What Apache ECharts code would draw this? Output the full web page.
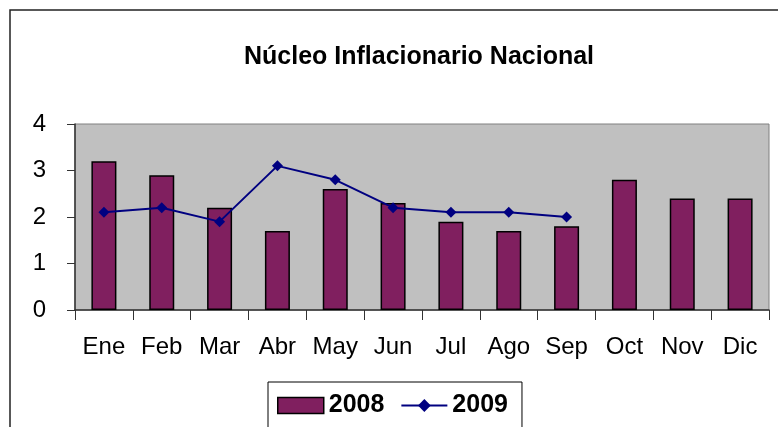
<!DOCTYPE html>
<html>
<head>
<meta charset="utf-8">
<script src="https://cdn.jsdelivr.net/npm/echarts@6/dist/echarts.min.js"></script>
<style>
  html, body { margin: 0; padding: 0; background: #fff; }
  #chart { width: 778px; height: 427px; }
</style>
</head>
<body>
<div id="chart"></div>
<script>
const months = ['Ene', 'Feb', 'Mar', 'Abr', 'May', 'Jun', 'Jul', 'Ago', 'Sep', 'Oct', 'Nov', 'Dic']
const values2008 = [3.2, 2.9, 2.2, 1.7, 2.6, 2.3, 1.9, 1.7, 1.8, 2.8, 2.4, 2.4]
const values2009 = [2.1, 2.2, 1.9, 3.1, 2.8, 2.2, 2.1, 2.1, 2.0]
const yTicks = [0, 1, 2, 3, 4]

const font = '"Liberation Sans", Arial, sans-serif'
const chart = echarts.init(document.getElementById('chart'))

chart.setOption({
  animation: false,
  backgroundColor: '#fff',
  graphic: [{
    type: 'rect',
    shape: { x: 10, y: 10, width: 900, height: 600 },
    style: { fill: 'none', stroke: '#222', lineWidth: 1.5 },
    silent: true,
    z: -1
  }],
  title: {
    text: 'Núcleo Inflacionario Nacional',
    left: 414,
    textAlign: 'center',
    top: 40,
    textStyle: { fontFamily: font, fontSize: 25, fontWeight: 'bold', color: '#000' }
  },
  legend: {
    left: 268,
    top: 382,
    padding: [11, 14, 30, 9],
    borderColor: '#000',
    borderWidth: 1,
    itemWidth: 46,
    itemHeight: 16,
    itemGap: 16,
    textStyle: { fontFamily: font, fontSize: 25, fontWeight: 'bold', color: '#000' },
    data: [
      { name: '2008', icon: 'rect', itemStyle: { borderColor: '#000', borderWidth: 1.5 } },
      { name: '2009' }
    ]
  },
  grid: {
    left: 75,
    right: 9,
    top: 124,
    bottom: 117,
    show: true,
    backgroundColor: '#c0c0c0',
    borderColor: '#808080',
    borderWidth: 1
  },
  xAxis: {
    type: 'category',
    data: months,
    boundaryGap: true,
    axisLine: { lineStyle: { color: '#333', width: 1.5 } },
    axisTick: { show: true, alignWithLabel: false, interval: 0, length: 10, lineStyle: { color: '#333' } },
    axisLabel: { fontFamily: font, fontSize: 24, color: '#000', margin: 25, interval: 0, hideOverlap: false }
  },
  yAxis: {
    type: 'value',
    min: yTicks[0],
    max: yTicks[yTicks.length - 1],
    interval: 1,
    splitLine: { show: false },
    axisLine: { show: true, lineStyle: { color: '#333', width: 1.5 } },
    axisTick: { show: true, length: 8, lineStyle: { color: '#333' } },
    axisLabel: { fontFamily: font, fontSize: 24, color: '#000', margin: 29 }
  },
  series: [
    {
      name: '2008',
      type: 'bar',
      data: values2008,
      barWidth: 25,
      itemStyle: { color: '#801f5f', borderColor: '#000', borderWidth: 1.5 }
    },
    {
      name: '2009',
      type: 'line',
      data: values2009,
      symbol: 'diamond',
      symbolSize: 11,
      lineStyle: { color: '#000080', width: 2 },
      itemStyle: { color: '#000080' }
    }
  ]
})
</script>
</body>
</html>
